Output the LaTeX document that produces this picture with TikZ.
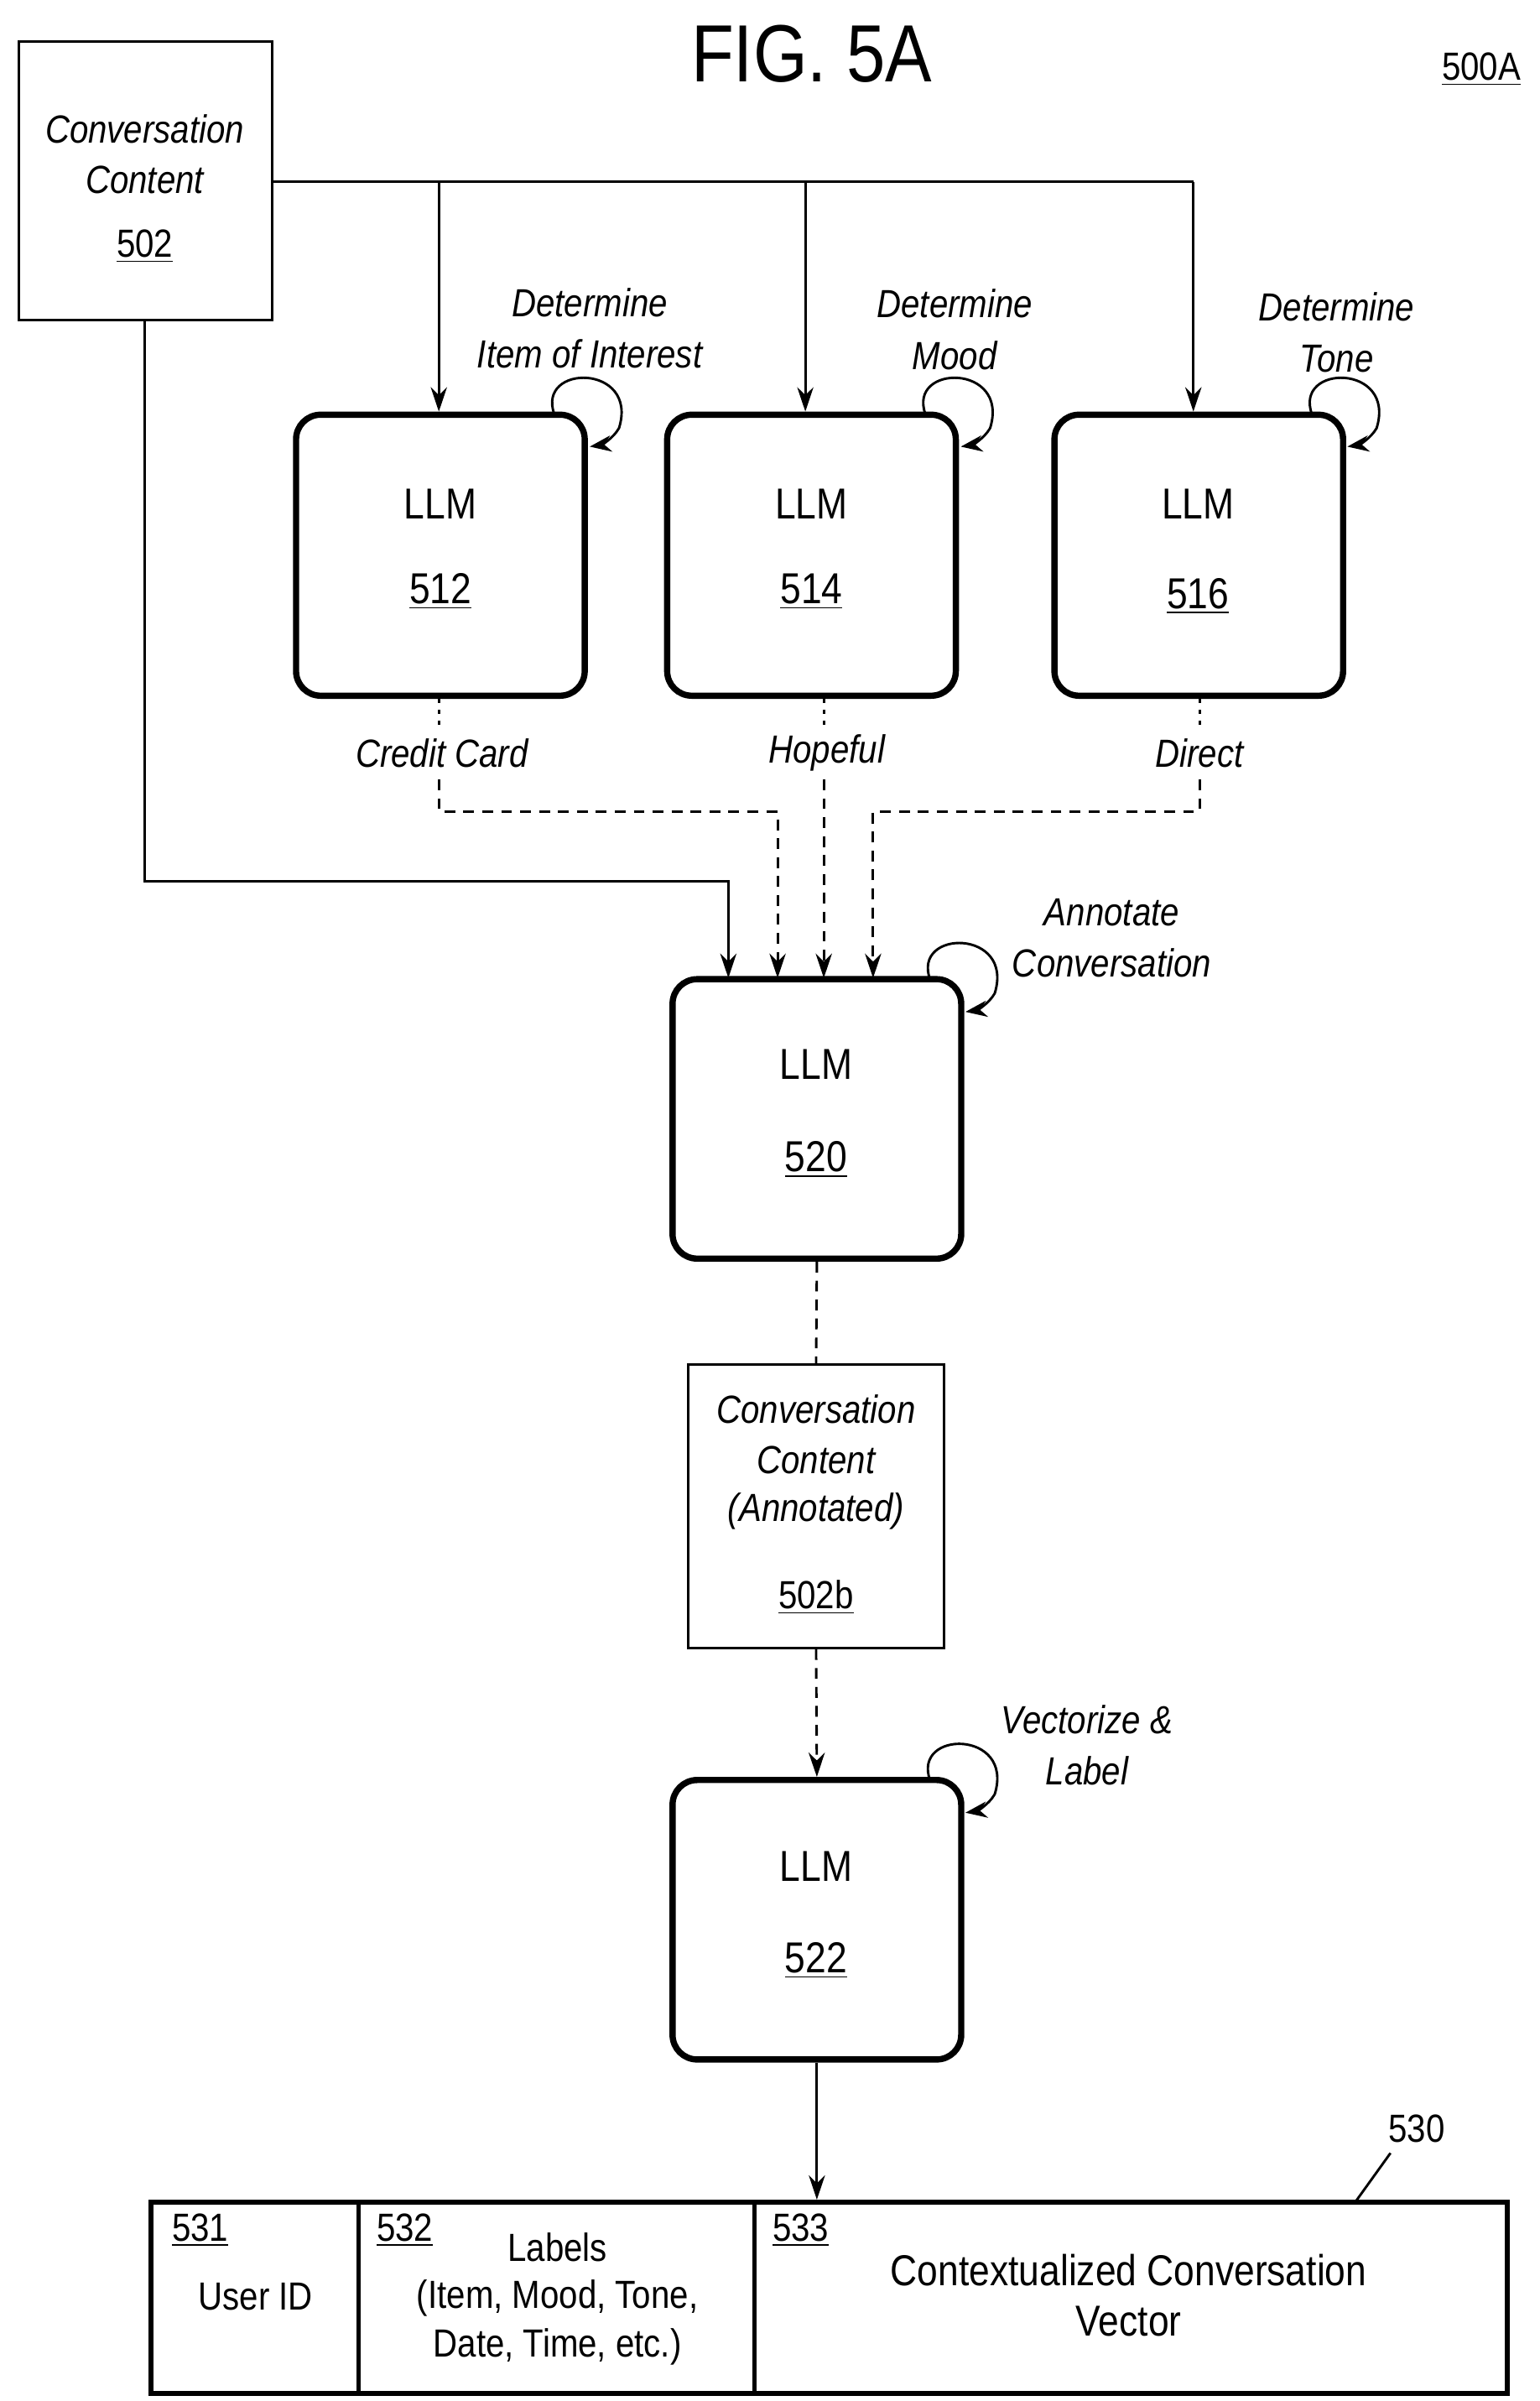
\documentclass[tikz,border=0pt]{standalone}
\usepackage{fontspec}
\setmainfont[FakeStretch=0.86]{Liberation Sans}
\usetikzlibrary{arrows.meta}
\begin{document}
\begin{tikzpicture}[x=0.02cm,y=-0.02cm,
  llm/.style={draw,line width=2.3pt,rounded corners=0.32cm,minimum width=3.75cm,minimum height=3.65cm,inner sep=0},
  thin box/.style={draw,line width=0.9pt,inner sep=0},
  it/.style={font=\fontsize{14.5}{19}\selectfont\itshape,align=center,inner sep=0},
  tx/.style={font=\fontsize{16}{20}\selectfont,align=center,inner sep=0},
  tt/.style={font=\fontsize{14.5}{19}\selectfont,align=center,inner sep=0},
  arr/.style={line width=0.9pt,-{Stealth[length=9pt,width=6pt]}},
  ln/.style={line width=0.9pt},
  dsh/.style={line width=0.9pt,dash pattern=on 4pt off 3pt},
  dot/.style={line width=0.9pt,dash pattern=on 1.5pt off 2.5pt}]
\useasboundingbox (0,0) rectangle (1000,1559);
\newcommand{\selfloop}[2]{%
  \draw[line width=0.9pt,-{Stealth[length=8pt,width=6pt]}] (#1-20,#2+1) .. controls (#1-32,#2-32) and (#1+35,#2-32) .. (#1+22,#2+10) .. controls (#1+18,#2+17) and (#1+10,#2+21) .. (#1+3,#2+22);}
% title
\node[font=\fontsize{30}{34}\selectfont] (title) at (527,35) {FIG. 5A};
\node[font=\fontsize{14.5}{18}\selectfont] (fig) at (962,45) {\underline{500A}};
% box 502
\node[thin box,minimum width=3.3cm,minimum height=3.62cm] (b502) at (94.5,117.5) {};
\node[it] (t502a) at (94,84) {Conversation};
\node[it] (t502b) at (94,117) {Content};
\node[tt] (t502c) at (94,160) {\underline{502}};
% LLM boxes
\node[llm] (b512) at (286,360.5) {};
\node[llm] (b514) at (527,360.5) {};
\node[llm] (b516) at (778.5,360.5) {};
\node[tx] at (286,327) {LLM}; \node[tx] at (286,384) {\underline{512}};
\node[tx] at (527,327) {LLM}; \node[tx] at (527,384) {\underline{514}};
\node[tx] at (778,327) {LLM}; \node[tx] at (778,387) {\underline{516}};
\node[it] (d512) at (383,213) {Determine\\Item of Interest};
\node[it] (d514) at (620,214) {Determine\\Mood};
\node[it] (d516) at (868,216) {Determine\\Tone};
\selfloop{380}{268}\selfloop{621}{268}\selfloop{872}{268}
% fanout
\coordinate (f0) at (177,118);
\coordinate (f1) at (775,118);
\draw[ln] (f0) -- (f1);
\draw[arr] (285,118) -- (b512.north -| 285,0);
\draw[arr] (523,118) -- (b514.north -| 523,0);
\draw[arr] (775,118) -- (b516.north -| 775,0);
% output labels
\node[it] (cc) at (287,489) {Credit Card};
\node[it] (hp) at (537,489) {Hopeful};
\node[it] (dr) at (779,489) {Direct};
\draw[dot] (b512.south -| 285,0) -- (285,472);
\draw[dot] (b514.south -| 535,0) -- (535,472);
\draw[dot] (b516.south -| 779,0) -- (779,472);
% LLM 520
\node[llm,minimum width=3.75cm,minimum height=3.63cm] (b520) at (530.5,726.5) {};
\node[tx] at (530,691) {LLM}; \node[tx] at (530,753) {\underline{520}};
\node[it] (d520) at (722,609) {Annotate\\Conversation};
\selfloop{624}{635}
\draw[dsh,-{Stealth[length=9pt,width=6pt]}] (285,506) -- (285,527) -- (505,527) -- (505,635);
\draw[dsh,-{Stealth[length=9pt,width=6pt]}] (535,506) -- (535,635);
\draw[dsh,-{Stealth[length=9pt,width=6pt]}] (779,506) -- (779,527) -- (567,527) -- (567,635);
\draw[arr] (94,208) -- (94,572) -- (473,572) -- (473,635);
% 502b
\node[thin box,minimum width=3.32cm,minimum height=3.68cm] (b502b) at (530,978) {};
\node[it] at (530,915) {Conversation};
\node[it] at (530,948) {Content};
\node[it] at (530,981) {(Annotated)};
\node[tt] at (530,1037) {\underline{502b}};
\draw[dsh] (b520.south) -- (b502b.north);
% 522
\node[llm,minimum width=3.75cm,minimum height=3.63cm] (b522) at (530.5,1246.5) {};
\node[tx] at (530,1212) {LLM}; \node[tx] at (530,1273) {\underline{522}};
\node[it] (d522) at (706,1133) {Vectorize \&\\Label};
\selfloop{624}{1155}
\draw[dsh,-{Stealth[length=9pt,width=6pt]}] (b502b.south) -- (b522.north);
% table 530
\node[draw,line width=2pt,minimum width=17.62cm,minimum height=2.48cm,inner sep=0] (t530) at (538.5,1492) {};
\draw[line width=1.6pt] (233,1430) -- (233,1554);
\draw[line width=1.6pt] (490,1430) -- (490,1554);
\draw[arr] (b522.south) -- (t530.north -| b522.south);
\node[tt] (l530) at (920,1382) {530};
\draw[ln] (903,1398) -- (880,1430);
\node[tt] at (130,1448) {\underline{531}};
\node[tt] at (166,1491) {User ID};
\node[tt] at (263,1448) {\underline{532}};
\node[tt] at (362,1459) {Labels};
\node[tt] at (362,1492) {(Item, Mood, Tone,};
\node[tt] at (362,1524) {Date, Time, etc.)};
\node[tt] at (520,1448) {\underline{533}};
\node[tx] at (733,1474) {Contextualized Conversation};
\node[tx] at (733,1507) {Vector};
\end{tikzpicture}
\end{document}
